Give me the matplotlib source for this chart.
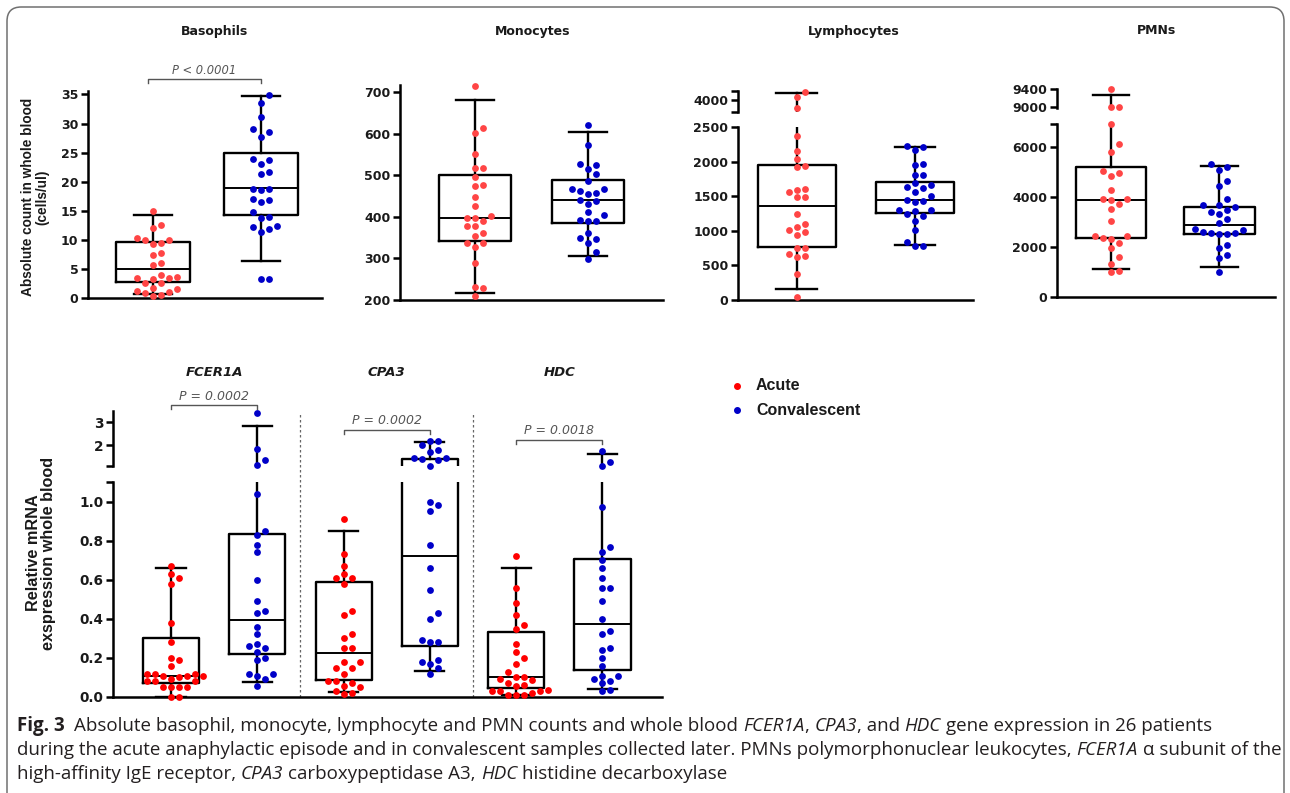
import matplotlib
matplotlib.use("Agg")
import matplotlib.pyplot as plt
from matplotlib.lines import Line2D
from matplotlib.patches import FancyBboxPatch
from matplotlib.ticker import FormatStrFormatter
from matplotlib.transforms import blended_transform_factory

W, H = 1290, 793
plt.rcParams['font.family'] = ['DejaVu Sans']
plt.rcParams['font.weight'] = 'bold'
ARIAL = ['Liberation Sans', 'DejaVu Sans']

RED_TOP = '#ff4545'
RED = '#ff0000'
BLUE = '#0000c8'
INK = '#1a1a1a'

groups = ['Acute', 'Convalescent']

# box stats: (whisker low, q1, median, q3, whisker high)
baso_acute = [15.0, 12.5, 12.0, 10.3, 10.0, 9.9, 9.5, 9.3, 7.8, 7.4, 6.0, 5.7, 3.9,
              3.6, 3.5, 3.4, 3.2, 2.6, 2.5, 1.7, 1.5, 1.2, 1.0, 0.9, 0.6, 0.3]
baso_conv = [34.9, 33.6, 31.2, 29.0, 28.5, 27.7, 23.9, 23.8, 23.1, 21.7, 21.4, 18.8, 18.8,
             18.6, 17.0, 16.9, 16.5, 14.8, 14.0, 13.8, 12.4, 12.2, 11.8, 11.4, 3.3, 3.2]
baso_box = [(0.7, 2.7, 5.0, 9.7, 14.3), (6.3, 14.3, 19.0, 24.9, 34.7)]

mono_acute = [715, 614, 602, 552, 517, 517, 495, 476, 473, 448, 427, 402, 398,
              397, 390, 377, 377, 362, 353, 337, 337, 327, 290, 232, 228, 210]
mono_conv = [620, 573, 527, 525, 515, 503, 485, 468, 466, 463, 458, 455, 440,
             438, 431, 412, 404, 393, 391, 389, 362, 348, 347, 338, 315, 298]
mono_box = [(217, 342, 396, 501, 681), (306, 386, 440, 489, 603)]

lymph_acute = [4120, 4050, 3885, 2370, 2148, 2038, 1941, 1917, 1609, 1594, 1566, 1488, 1484,
               1243, 1103, 1060, 1016, 983, 935, 756, 747, 670, 636, 626, 371, 48]
lymph_conv = [2220, 2210, 2168, 1965, 1956, 1811, 1802, 1691, 1662, 1628, 1618, 1560, 1508,
              1450, 1431, 1422, 1305, 1296, 1285, 1238, 1219, 1137, 1016, 838, 785, 776]
lymph_box = [(164, 766, 1354, 1956, 4110), (800, 1257, 1450, 1705, 2206)]

pmn_acute = [9400, 9000, 9000, 6900, 6090, 5790, 5040, 4930, 4810, 4250, 3910, 3900, 3880,
             3720, 3510, 3030, 2450, 2430, 2360, 2320, 2150, 1950, 1600, 1320, 1020, 990]
pmn_conv = [5290, 5200, 5070, 4630, 4440, 3910, 3680, 3650, 3570, 3470, 3380, 3320, 3130,
            2960, 2720, 2670, 2580, 2560, 2560, 2530, 2510, 2070, 1970, 1680, 1570, 1010]
pmn_box = [(1120, 2373, 3866, 5186, 9259), (1200, 2493, 2866, 3573, 5212)]

genes = ['FCER1A', 'CPA3', 'HDC']
fcer_acute = [0.67, 0.63, 0.61, 0.58, 0.38, 0.28, 0.20, 0.19, 0.16, 0.12, 0.12, 0.12, 0.11,
              0.11, 0.11, 0.10, 0.09, 0.08, 0.08, 0.08, 0.05, 0.05, 0.05, 0.05, 0.00, 0.00]
fcer_conv = [3.40, 1.83, 1.36, 1.14, 1.04, 0.85, 0.83, 0.78, 0.74, 0.60, 0.49, 0.44, 0.43,
             0.36, 0.32, 0.27, 0.26, 0.25, 0.23, 0.20, 0.19, 0.12, 0.12, 0.11, 0.09, 0.055]
fcer_box = [(0.0, 0.072, 0.11, 0.304, 0.66), (0.075, 0.222, 0.396, 0.836, 2.85)]
cpa3_acute = [0.91, 0.73, 0.67, 0.63, 0.61, 0.61, 0.58, 0.44, 0.42, 0.32, 0.30, 0.25, 0.25,
              0.18, 0.18, 0.15, 0.15, 0.12, 0.08, 0.08, 0.07, 0.055, 0.05, 0.03, 0.02, 0.015]
cpa3_conv = [2.19, 2.19, 2.02, 1.80, 1.70, 1.43, 1.43, 1.41, 1.36, 1.12, 1.00, 0.98, 0.95,
             0.78, 0.66, 0.55, 0.43, 0.40, 0.29, 0.28, 0.28, 0.19, 0.18, 0.17, 0.15, 0.12]
cpa3_box = [(0.027, 0.089, 0.225, 0.587, 0.85), (0.131, 0.261, 0.722, 1.39, 2.13)]
hdc_acute = [0.72, 0.56, 0.48, 0.42, 0.37, 0.35, 0.27, 0.23, 0.20, 0.17, 0.13, 0.10, 0.10,
             0.09, 0.085, 0.07, 0.06, 0.055, 0.035, 0.033, 0.03, 0.03, 0.02, 0.01, 0.01, 0.01]
hdc_conv = [1.75, 1.29, 1.12, 0.97, 0.77, 0.74, 0.70, 0.66, 0.61, 0.56, 0.56, 0.49, 0.40,
            0.34, 0.32, 0.25, 0.24, 0.20, 0.16, 0.11, 0.11, 0.09, 0.08, 0.07, 0.035, 0.03]
hdc_box = [(0.01, 0.046, 0.10, 0.334, 0.66), (0.041, 0.14, 0.374, 0.708, 1.61)]
gene_p = ['P = 0.0002', 'P = 0.0002', 'P = 0.0018']

fig = plt.figure(figsize=(W / 100, H / 100), dpi=100)


def px_axes(left, top, right, bottom, labelsize=9):
    ax = fig.add_axes([left / W, 1 - bottom / H, (right - left) / W, (bottom - top) / H])
    ax.patch.set_visible(False)
    for s in ['top', 'right']:
        ax.spines[s].set_visible(False)
    for s in ['left', 'bottom']:
        ax.spines[s].set_linewidth(1.8)
    ax.tick_params(axis='x', length=0, labelbottom=False)
    ax.tick_params(axis='y', which='both', length=5, width=1.8, labelsize=labelsize,
                   pad=2, labelcolor=INK)
    return ax


def swarm(axes, split, vals, pos, color, d=8.0, size=24):
    pts = []
    for v in vals:
        ax = axes[1] if len(axes) > 1 and v > split else axes[0]
        x0, y0 = ax.transData.transform((pos, v))
        pts.append((v, ax, x0, y0))
    pts.sort(key=lambda p: p[3])
    placed = []
    for v, ax, x0, y0 in pts:
        k = 0
        off = None
        while off is None:
            for o in ([0.0] if k == 0 else [k * d, -k * d]):
                if all((x0 + o - px) ** 2 + (y0 - py) ** 2 >= (0.95 * d) ** 2 for px, py in placed):
                    off = o
                    break
            k += 1
        placed.append((x0 + off, y0))
        xd = ax.transData.inverted().transform((x0 + off, y0))[0]
        ax.scatter([xd], [v], s=size, color=color, zorder=4, clip_on=False, linewidths=0)


def boxes(axes, stats, positions, width):
    st = [dict(whislo=b[0], q1=b[1], med=b[2], q3=b[3], whishi=b[4], fliers=[]) for b in stats]
    lp = dict(color='k', lw=1.7)
    for ax in axes:
        ax.bxp(st, positions=positions, widths=width, capwidths=width * 0.52,
               showfliers=False, manage_ticks=False, boxprops=lp, whiskerprops=lp,
               capprops=lp, medianprops=dict(color='k', lw=1.4), zorder=3)


def bracket(ax, x1, x2, y_px, text, size, text_px):
    tr = blended_transform_factory(ax.transData, fig.transFigure)
    y0, y1 = 1 - y_px / H, 1 - (y_px + 4) / H
    ax.plot([x1, x1, x2, x2], [y1, y0, y0, y1], transform=tr, color='#555555', lw=1,
            clip_on=False)
    ax.text((x1 + x2) / 2, 1 - text_px / H, text, transform=tr, ha='center', va='center',
            style='italic', fontweight='normal', color='#555555', fontsize=size)


# ---- top row: absolute counts ----
top_panels = [
    dict(title='Basophils', tx=214, acute=baso_acute, conv=baso_conv, box=baso_box,
         low=(88, 91, 322, 298), ylim=(0, 35.6), ticks=range(0, 36, 5), xlim=(0.398, 2.565),
         w=0.68),
    dict(title='Monocytes', tx=533, acute=mono_acute, conv=mono_conv, box=mono_box,
         low=(400, 85, 663, 300), ylim=(200, 717), ticks=range(200, 701, 100),
         xlim=(0.336, 2.663), w=0.64),
    dict(title='Lymphocytes', tx=854, acute=lymph_acute, conv=lymph_conv, box=lymph_box,
         low=(738, 127, 973, 300), ylim=(0, 2500), ticks=range(0, 2501, 500),
         up=(738, 91, 973, 112), uylim=(3830, 4140), uticks=[4000], uminor=[3830, 4140],
         xlim=(0.504, 2.49), w=0.66),
    dict(title='PMNs', tx=1156, acute=pmn_acute, conv=pmn_conv, box=pmn_box,
         low=(1057, 124, 1275, 297), ylim=(0, 6900), ticks=[0, 2000, 4000, 6000], minor=[6900],
         up=(1057, 89, 1275, 108), uylim=(8978, 9400), uticks=[9000, 9400],
         xlim=(0.501, 2.514), w=0.65),
]

for p in top_panels:
    axes = [px_axes(*p['low'])]
    axes[0].set_ylim(*p['ylim'])
    axes[0].set_yticks(list(p['ticks']))
    if 'minor' in p:
        axes[0].set_yticks(p['minor'], minor=True)
    split = p['ylim'][1]
    if 'up' in p:
        ua = px_axes(*p['up'])
        ua.spines['bottom'].set_visible(False)
        ua.set_ylim(*p['uylim'])
        ua.set_yticks(p['uticks'])
        if 'uminor' in p:
            ua.set_yticks(p['uminor'], minor=True)
        axes.append(ua)
    for ax in axes:
        ax.set_xlim(*p['xlim'])
    boxes(axes, p['box'], [1, 2], p['w'])
    swarm(axes, split, p['acute'], 1, RED_TOP)
    swarm(axes, split, p['conv'], 2, BLUE)
    fig.text(p['tx'] / W, 1 - 31 / H, p['title'], ha='center', va='center', fontsize=9,
             color=INK)

bracket(fig.axes[0], 0.95, 2, 79, 'P < 0.0001', 8.3, 70)
fig.text(35 / W, 1 - 197 / H, 'Absolute count in whole blood\n(cells/ul)', rotation=90,
         ha='center', va='center', fontsize=9.8, linespacing=1.05, color=INK, family=ARIAL)

# ---- bottom row: gene expression ----
gl = px_axes(113, 482, 662, 697, labelsize=9.8)
gu = px_axes(113, 411, 662, 466, labelsize=9.8)
gu.spines['bottom'].set_visible(False)
gl.set_ylim(0, 1.1)
gl.set_yticks([0.0, 0.2, 0.4, 0.6, 0.8, 1.0])
gl.set_yticks([1.1], minor=True)
gl.yaxis.set_major_formatter(FormatStrFormatter('%.1f'))
gu.set_ylim(1.1, 3.5)
gu.set_yticks([2, 3])
gu.set_yticks([1.1], minor=True)
for ax in (gl, gu):
    ax.set_xlim(0.328, 6.69)

gene_data = [(fcer_acute, fcer_conv, fcer_box), (cpa3_acute, cpa3_conv, cpa3_box),
             (hdc_acute, hdc_conv, hdc_box)]
bracket_y = [(405, 397), (430, 421), (440, 431)]
tr = blended_transform_factory(gl.transData, fig.transFigure)
for i, (a, c, b) in enumerate(gene_data):
    pa, pc = 2 * i + 1, 2 * i + 2
    boxes([gl, gu], b, [pa, pc], 0.65)
    swarm([gl, gu], 1.1, a, pa, RED)
    swarm([gl, gu], 1.1, c, pc, BLUE)
    gl.text((pa + pc) / 2, 1 - 372 / H, genes[i], transform=tr, ha='center', va='center',
            style='italic', fontsize=9.5, color=INK)
    bracket(gl, pa, pc, bracket_y[i][0], gene_p[i], 9, bracket_y[i][1])
    if i > 0:
        gl.plot([pa - 0.5, pa - 0.5], [1 - 697 / H, 1 - 414 / H], transform=tr,
                color='#666666', lw=0.9, ls=(0, (2, 2)), clip_on=False)

fig.text(41 / W, 1 - 553 / H, 'Relative mRNA\nexspression whole blood', rotation=90,
         ha='center', va='center', fontsize=11.7, linespacing=1.05, color=INK, family=ARIAL)

# legend
for i, (lab, col) in enumerate(zip(groups, [RED, BLUE])):
    y = 1 - (386 + 24 * i) / H
    fig.add_artist(Line2D([737 / W], [y], marker='o', ms=4, color=col, ls='',
                          transform=fig.transFigure))
    fig.text(756 / W, y, lab, va='center', fontsize=11.5, color=INK, family=ARIAL)

# frame
fig.add_artist(FancyBboxPatch((7 / W, -0.05), 1277 / W, 1.05 - 7 / H,
                              boxstyle='round,pad=0,rounding_size=0.011',
                              mutation_aspect=W / H, transform=fig.transFigure,
                              fc='none', ec='#707070', lw=1.1))

# caption
cap_font = ['Open Sans', 'DejaVu Sans']
caption = [
    [('Fig. 3', 'bold'), ('  Absolute basophil, monocyte, lymphocyte and PMN counts and whole blood ', 'normal'),
     ('FCER1A', 'italic'), (', ', 'normal'), ('CPA3', 'italic'), (', and ', 'normal'),
     ('HDC', 'italic'), (' gene expression in 26 patients', 'normal')],
    [('during the acute anaphylactic episode and in convalescent samples collected later. '
      'PMNs polymorphonuclear leukocytes, ', 'normal'), ('FCER1A', 'italic'),
     (' \u03b1 subunit of the', 'normal')],
    [('high-affinity IgE receptor, ', 'normal'), ('CPA3', 'italic'),
     (' carboxypeptidase A3, ', 'normal'), ('HDC', 'italic'),
     (' histidine decarboxylase', 'normal')],
]
cap_ends = [1228, 1278, 716]
renderer = fig.canvas.get_renderer()


def draw_runs(runs, y_px, size):
    probe = fig.text(0, 0, 'a a', fontsize=size, family=cap_font, fontweight='normal')
    w2 = probe.get_window_extent(renderer).width
    probe.set_text('aa')
    space_w = w2 - probe.get_window_extent(renderer).width
    probe.remove()
    x = 17.0
    texts = []
    for s, kind in runs:
        lead = len(s) - len(s.lstrip(' '))
        trail = len(s) - len(s.rstrip(' '))
        x += lead * space_w
        t = fig.text(x / W, 1 - y_px / H, s.strip(' '), fontsize=size, family=cap_font,
                     va='center', color='#231f20',
                     fontweight='bold' if kind == 'bold' else 'normal',
                     style='italic' if kind == 'italic' else 'normal')
        texts.append(t)
        x += t.get_window_extent(renderer).width + trail * space_w
    return texts, x


scales = []
for runs, target in zip(caption, cap_ends):
    trial, end = draw_runs(runs, 726, 12)
    for t in trial:
        t.remove()
    scales.append((target - 17) / (end - 17))
cap_size = 12 * min(scales[:2])
for li, runs in enumerate(caption):
    draw_runs(runs, 726 + 24 * li, cap_size)

fig.savefig('out.png', dpi=100)
